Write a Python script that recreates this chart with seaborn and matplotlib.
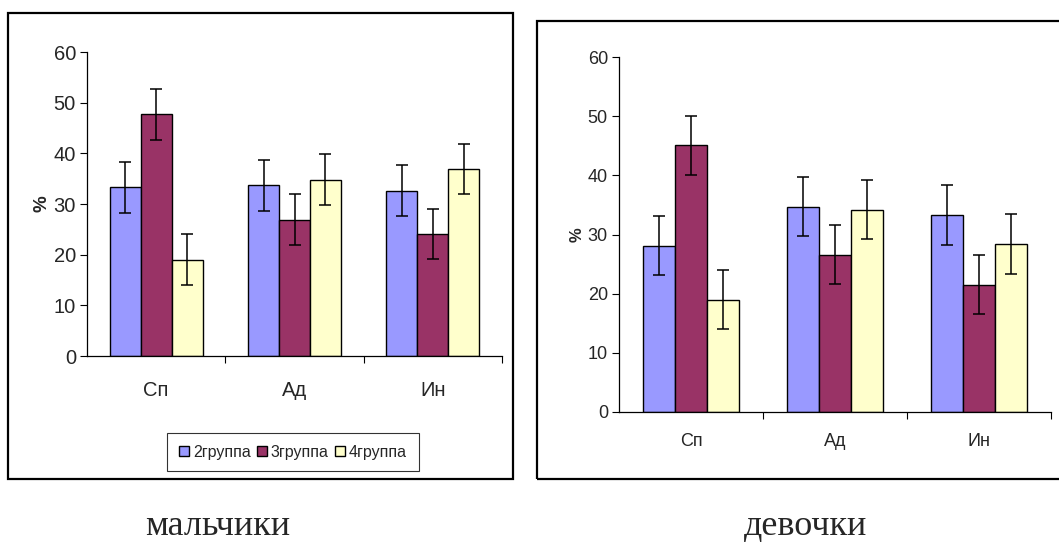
import numpy as np
import pandas as pd
import matplotlib
matplotlib.use("Agg")
import matplotlib.pyplot as plt
from matplotlib.patches import Rectangle, Patch
import seaborn as sns

# Data
categories = ["Сп", "Ад", "Ин"]
groups = ["2группа", "3группа", "4группа"]

boys_2 = [33.3, 33.7, 32.6]
boys_3 = [47.7, 26.9, 24.1]
boys_4 = [19.0, 34.8, 36.9]

girls_2 = [28.1, 34.7, 33.3]
girls_3 = [45.1, 26.6, 21.5]
girls_4 = [19.0, 34.2, 28.4]

err = 5.0  # symmetric error bar half-length, %

panel_titles = ["мальчики", "девочки"]
y_ticks = [0, 10, 20, 30, 40, 50, 60]

colors = ["#9999FF", "#993366", "#FFFFCC"]

sns.set_theme(style="white")
plt.rcParams["font.family"] = ["Liberation Sans", "DejaVu Sans"]


def make_frame(values):
    rows = []
    for g, vals in zip(groups, values):
        for c, v in zip(categories, vals):
            rows.append({"cat": c, "group": g, "value": v})
    return pd.DataFrame(rows)


def draw_panel(ax, df, fs, xpad):
    sns.barplot(data=df, x="cat", y="value", hue="group", order=categories,
                hue_order=groups, palette=colors, width=0.67, gap=0,
                errorbar=None, edgecolor="black", linewidth=1.0,
                saturation=1, legend=False, ax=ax)
    # error bars at the centres of the drawn bars
    for g_i, g in enumerate(groups):
        bars = ax.containers[g_i]
        xs = [b.get_x() + b.get_width() / 2 for b in bars]
        ys = [b.get_height() for b in bars]
        ax.errorbar(xs, ys, yerr=err, fmt="none", ecolor="black",
                    elinewidth=1.1, capsize=4, capthick=1.1, zorder=5)
    ax.set_xlim(-0.5, 2.5)
    ax.set_ylim(0, 60)
    ax.set_yticks(y_ticks)
    ax.set_xticks(range(len(categories)))
    ax.set_xticklabels(categories, fontsize=fs)
    ax.set_xticks([0.5, 1.5, 2.5], minor=True)
    ax.tick_params(axis="x", which="major", length=0, pad=xpad)
    ax.tick_params(axis="x", which="minor", length=5, width=0.8,
                   direction="out", color="black", bottom=True)
    ax.tick_params(axis="y", length=5, width=0.8, direction="out",
                   color="black", left=True, labelsize=fs, pad=3)
    ax.set_xlabel("")
    ax.set_ylabel("%", fontsize=fs - 1, fontweight="bold", labelpad=2)
    for s in ["top", "right"]:
        ax.spines[s].set_visible(False)
    for s in ["left", "bottom"]:
        ax.spines[s].set_color("black")
        ax.spines[s].set_linewidth(0.9)
    ax.set_facecolor("white")
    ax.grid(False)


fig = plt.figure(figsize=(10.59, 5.43), dpi=100)
W, H = 1059, 543

# outer frames around each chart
fig.patches.append(Rectangle((8 / W, 1 - 479 / H), (513 - 8) / W, (479 - 13) / H,
                             transform=fig.transFigure, fill=False,
                             edgecolor="black", linewidth=1.6))
fig.patches.append(Rectangle((537 / W, 1 - 479 / H), (1070 - 537) / W, (479 - 21) / H,
                             transform=fig.transFigure, fill=False,
                             edgecolor="black", linewidth=1.6, clip_on=False))

ax1 = fig.add_axes([87 / W, 1 - 356 / H, (502 - 87) / W, (356 - 52) / H])
ax2 = fig.add_axes([619 / W, 1 - 412 / H, (1051 - 619) / W, (412 - 57) / H])

draw_panel(ax1, make_frame([boys_2, boys_3, boys_4]), 14.5, 18)
draw_panel(ax2, make_frame([girls_2, girls_3, girls_4]), 13, 15)

handles = [Patch(facecolor=c, edgecolor="black", linewidth=1.0) for c in colors]
leg = fig.legend(handles, groups, loc="center", bbox_to_anchor=(293 / W, 1 - 452 / H),
                 ncol=3, frameon=True, fancybox=False, fontsize=11.5,
                 handlelength=0.6, handleheight=0.6, handletextpad=0.25,
                 columnspacing=0.4, borderpad=0.75, borderaxespad=0)
leg.get_frame().set_edgecolor("black")
leg.get_frame().set_linewidth(0.8)

fig.text(218 / W, 1 - 535 / H, panel_titles[0], ha="center", va="baseline",
         fontsize=26, family=["Liberation Serif"])
fig.text(806 / W, 1 - 535 / H, panel_titles[1], ha="center", va="baseline",
         fontsize=26, family=["Liberation Serif"])

fig.savefig("out.png", dpi=100, facecolor="white")
